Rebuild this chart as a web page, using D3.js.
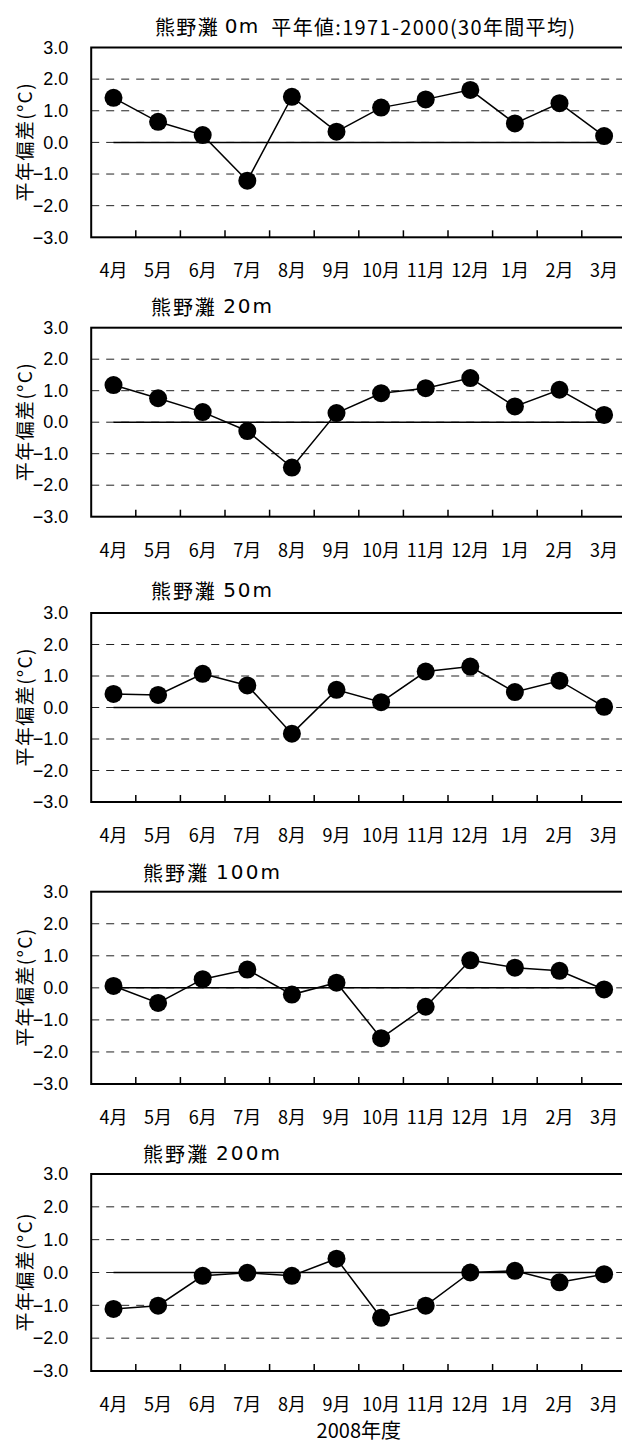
<!DOCTYPE html>
<html><head><meta charset="utf-8">
<script src="https://cdn.jsdelivr.net/npm/d3@7"></script>
<style>body{margin:0;background:#fff} svg{display:block} text{white-space:pre}</style>
</head><body><svg id="c" width="622" height="1445"></svg>
<script>
// ---- data ----
const months = ["4月","5月","6月","7月","8月","9月","10月","11月","12月","1月","2月","3月"];
const yTickValues = [-3, -2, -1, 0, 1, 2, 3];
const gridValues = [-2, -1, 0, 1, 2];
const panelTitles = ["熊野灘 0m  平年値:1971-2000(30年間平均)", "熊野灘 20m", "熊野灘 50m", "熊野灘 100m", "熊野灘 200m"];
const dev0m   = [1.41, 0.65, 0.23, -1.21, 1.44, 0.34, 1.10, 1.36, 1.66, 0.60, 1.24, 0.20];
const dev20m  = [1.18, 0.76, 0.32, -0.28, -1.44, 0.29, 0.92, 1.08, 1.40, 0.50, 1.03, 0.23];
const dev50m  = [0.43, 0.40, 1.07, 0.70, -0.83, 0.56, 0.17, 1.14, 1.30, 0.49, 0.85, 0.02];
const dev100m = [0.06, -0.47, 0.27, 0.57, -0.21, 0.16, -1.57, -0.59, 0.86, 0.63, 0.53, -0.05];
const dev200m = [-1.11, -1.01, -0.10, -0.01, -0.10, 0.42, -1.38, -1.01, 0.00, 0.05, -0.30, -0.05];
const xAxisTitle = "2008年度";
const yAxisTitle = "平年偏差(°C)";

// ---- layout ----
const seriesList = [dev0m, dev20m, dev50m, dev100m, dev200m];
const layout = [
  {top: 47.5,  bottom: 237.3,  tx: 155, tw: 420, ty: 25.5},
  {top: 327.7, bottom: 516.7,  tx: 151, tw: 121, ty: 306},
  {top: 613,   bottom: 802,    tx: 151, tw: 121, ty: 590},
  {top: 891.7, bottom: 1084,   tx: 143, tw: 137, ty: 872},
  {top: 1174,  bottom: 1371,   tx: 143, tw: 137, ty: 1153}
];
const left = 91.2, right = 626.4, W = 622;
const cjk = "'Noto Sans CJK JP', sans-serif";
const latin = "'Liberation Sans', Arial, 'Noto Sans CJK JP', sans-serif";
const wide = "'DejaVu Sans', 'Noto Sans CJK JP', sans-serif";

const svg = d3.select("#c");
const x = d3.scaleBand().domain(months).range([left, right]).padding(0);
const bw = x.bandwidth();
const cx = m => x(m) + bw / 2;

seriesList.forEach((vals, i) => {
  const L = layout[i];
  const y = d3.scaleLinear().domain([-3, 3]).range([L.bottom, L.top]);
  const g = svg.append("g");

  // dashed gridlines
  g.selectAll("line.grid").data(gridValues).enter().append("line")
    .attr("x1", left).attr("x2", W)
    .attr("y1", d => y(d)).attr("y2", d => y(d))
    .attr("stroke", "#222").attr("stroke-width", 1)
    .attr("stroke-dasharray", "8,7");

  // zero reference line (solid, from first to last month)
  const zeroLine = d3.line().x(m => cx(m)).y(() => y(0));
  g.append("path").attr("d", zeroLine(months))
    .attr("fill", "none").attr("stroke", "#000").attr("stroke-width", 1.5);

  // plot border
  g.append("rect").attr("x", left).attr("y", L.top)
    .attr("width", right - left).attr("height", L.bottom - L.top)
    .attr("fill", "none").attr("stroke", "#000").attr("stroke-width", 2);

  // x tick marks (inside, at category boundaries)
  g.selectAll("line.xt").data(months.slice(1)).enter().append("line")
    .attr("x1", d => x(d)).attr("x2", d => x(d))
    .attr("y1", L.bottom).attr("y2", L.bottom - 7)
    .attr("stroke", "#000").attr("stroke-width", 1.5);

  // y axis labels
  const ya = g.append("g").attr("transform", `translate(${left},0)`)
    .call(d3.axisLeft(y).tickValues(yTickValues).tickFormat(d3.format(".1f")).tickSize(0).tickPadding(23));
  ya.select(".domain").remove();
  ya.selectAll("text").attr("font-family", latin).attr("font-size", 18).attr("fill", "#000");

  // x labels
  g.selectAll("text.xl").data(months).enter().append("text")
    .attr("x", d => cx(d)).attr("y", L.bottom + 32)
    .attr("text-anchor", "middle").attr("dominant-baseline", "central")
    .attr("font-family", cjk).attr("font-size", 18).attr("fill", "#000")
    .text(d => d);

  // series line
  const line = d3.line().x((d, j) => cx(months[j])).y(d => y(d));
  g.append("path").attr("d", line(vals))
    .attr("fill", "none").attr("stroke", "#000").attr("stroke-width", 1.5);

  // markers
  g.selectAll("circle").data(vals).enter().append("circle")
    .attr("cx", (d, j) => cx(months[j])).attr("cy", d => y(d)).attr("r", 9)
    .attr("fill", "#000");

  // panel title: depth token in a wider latin face
  const t = g.append("text").attr("x", L.tx).attr("y", L.ty)
    .attr("text-anchor", "start").attr("dominant-baseline", "central")
    .attr("font-family", cjk).attr("font-size", 20).attr("fill", "#000")
    .attr("textLength", L.tw).attr("lengthAdjust", "spacing");
  panelTitles[i].split(/(\d+m)/).filter(s => s.length).forEach(s => {
    t.append("tspan").attr("font-family", /^\d+m$/.test(s) ? wide : cjk).text(s);
  });

  // y axis title
  g.append("text")
    .attr("transform", `translate(23,${(L.top + L.bottom) / 2}) rotate(-90)`)
    .attr("text-anchor", "middle").attr("dominant-baseline", "central")
    .attr("font-family", cjk).attr("font-size", 19).attr("fill", "#000")
    .attr("textLength", 118).attr("lengthAdjust", "spacing")
    .text(yAxisTitle);
});

svg.append("text").attr("x", (left + right) / 2).attr("y", 1429)
  .attr("text-anchor", "middle").attr("dominant-baseline", "central")
  .attr("font-family", cjk).attr("font-size", 20).attr("fill", "#000")
  .text(xAxisTitle);
</script></body></html>
